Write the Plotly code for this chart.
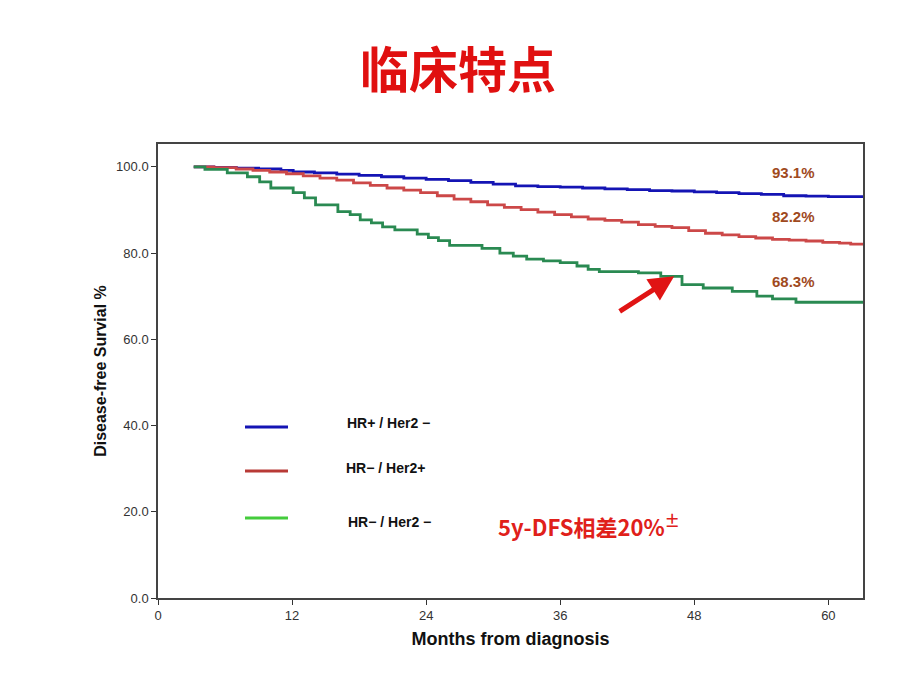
import plotly.graph_objects as go

# ---- data ----
blue_months = [3.2, 5, 7, 9, 11, 12.1, 14, 16, 18, 20, 22, 24, 26, 28, 30, 32, 34, 36, 38, 40, 42, 44, 46, 48, 50, 52, 54, 56, 58, 60, 63.1]
blue_values = [100, 99.9, 99.7, 99.5, 99.2, 98.8, 98.6, 98.3, 98.0, 97.7, 97.4, 97.1, 96.8, 96.4, 96.0, 95.6, 95.4, 95.3, 95.1, 94.9, 94.7, 94.5, 94.4, 94.2, 94.0, 93.8, 93.6, 93.3, 93.2, 93.1, 93.1]

red_months = [3.2, 5, 7, 8.5, 10, 11.5, 13, 14.5, 16, 17.5, 19, 20.5, 22, 23.5, 25, 26.5, 28, 29.5, 31, 32.5, 34, 35.5, 37, 38.5, 40, 41.5, 43, 44.5, 46, 47.5, 49, 50.5, 52, 53.5, 55, 56.5, 58, 59.5, 61, 62, 63.1]
red_values = [100, 99.8, 99.5, 99.2, 98.8, 98.4, 97.9, 97.4, 96.9, 96.3, 95.7, 95.1, 94.6, 94.0, 93.3, 92.5, 91.9, 91.2, 90.6, 90.1, 89.5, 88.9, 88.4, 87.9, 87.6, 87.2, 86.6, 86.2, 85.9, 85.2, 84.6, 84.2, 83.8, 83.5, 83.2, 83.0, 82.8, 82.5, 82.3, 82.1, 82.0]

green_months = [3.2, 4.2, 6.2, 8, 9.1, 10.1, 12.1, 13.1, 14.1, 16.1, 17.2, 18.1, 19.1, 20.1, 21.2, 23.2, 24.2, 25.1, 26.1, 29.0, 30.6, 31.8, 33, 34.5, 36, 37.5, 38.5, 39.5, 43, 45, 46.9, 48.8, 51.4, 53.6, 55, 57.1, 63.1]
green_values = [100, 99.4, 98.6, 97.7, 96.5, 95.1, 94.0, 92.8, 91.2, 89.6, 88.9, 87.7, 87.0, 86.1, 85.4, 84.4, 83.6, 82.9, 81.8, 81.1, 80.0, 79.3, 78.6, 78.2, 77.8, 77.0, 76.2, 75.7, 75.4, 74.6, 72.7, 71.9, 71.1, 70.0, 69.4, 68.6, 68.3]

series_names = ["HR+ / Her2 −", "HR− / Her2+", "HR− / Her2 −"]
end_labels = ["93.1%", "82.2%", "68.3%"]
end_label_y = [98.8, 88.4, 73.3]
x_ticks = [0, 12, 24, 36, 48, 60]
y_ticks = [0, 20, 40, 60, 80, 100]

curve_colors = ["#1414b4", "#cc4848", "#2a8a52"]
legend_colors = ["#1414b4", "#b83a36", "#44cc3c"]

FONT = "Arial, Liberation Sans, Noto Sans CJK SC, sans-serif"
CJK = "Noto Sans CJK SC, sans-serif"

fig = go.Figure()
for mx, vy, col, nm in [(blue_months, blue_values, curve_colors[0], series_names[0]),
                        (red_months, red_values, curve_colors[1], series_names[1]),
                        (green_months, green_values, curve_colors[2], series_names[2])]:
    fig.add_trace(go.Scatter(x=mx, y=vy, mode="lines", line=dict(color=col, width=2.8, shape="hv"),
                             name=nm, showlegend=False))

# page offset from the default body margin
OFF = 8
W, H = 920 - 2 * OFF, 690 - 2 * OFF
L, R, T, B = 158, 863, 144, 598   # plot area in page pixels
def px(x):
    return (x - L) / (R - L)
def py(y):
    return (B - y) / (B - T)

leg_y = [427, 471, 518]
leg_text_y = [423, 468, 522]
leg_text_x = [388, 385, 389]
for i in range(3):
    fig.add_shape(type="line", xref="paper", yref="paper", x0=px(245), x1=px(288), y0=py(leg_y[i]), y1=py(leg_y[i]),
                  line=dict(color=legend_colors[i], width=2.8))
    fig.add_annotation(xref="paper", yref="paper", x=px(leg_text_x[i]), y=py(leg_text_y[i]),
                       xanchor="center", yanchor="middle", text="<b>%s</b>" % series_names[i],
                       showarrow=False, font=dict(family=FONT, size=14, color="#111"))

for i in range(3):
    fig.add_annotation(x=56.9, y=end_label_y[i], text="<b>%s</b>" % end_labels[i], showarrow=False,
                       xanchor="center", yanchor="middle",
                       font=dict(family=FONT, size=15, color="#a04a1e"))

fig.add_annotation(xref="paper", yref="paper", x=px(589), y=py(525), xanchor="center", yanchor="middle",
                   text="<b>5y-DFS相差20%<sup>±</sup></b>", showarrow=False,
                   font=dict(family=CJK, size=22, color="#e0201a"))

# arrow
fig.add_annotation(x=46.2, y=74.6, ax=-56, ay=36, text="", showarrow=True, arrowhead=2, arrowsize=1,
                   arrowwidth=5, arrowcolor="#e01414", standoff=0)

# title
fig.add_annotation(xref="paper", yref="paper", x=px(458), y=py(66), xanchor="center", yanchor="middle",
                   text="<b>临床特点</b>", showarrow=False,
                   font=dict(family=CJK, size=49, color="#e01010"))

fig.update_layout(
    width=W, height=H,
    margin=dict(l=L - OFF, r=W - (R - OFF), t=T - OFF, b=H - (B - OFF)),
    paper_bgcolor="white", plot_bgcolor="white",
    showlegend=False,
)
fig.update_xaxes(range=[0, 63.1], tickvals=x_ticks, ticktext=[str(t) for t in x_ticks], ticks="outside", ticklen=5,
                 tickcolor="#333", showline=True, linecolor="#444", linewidth=1.5, mirror=True, showgrid=False,
                 zeroline=False, tickfont=dict(family=FONT, size=13, color="#333"),
                 title=dict(text="<b>Months from diagnosis</b>", font=dict(family=FONT, size=18, color="#111"), standoff=10))
fig.update_yaxes(range=[0, 105.3], tickvals=y_ticks, tickformat=".1f", ticks="outside", ticklen=5,
                 tickcolor="#333", showline=True, linecolor="#444", linewidth=1.5, mirror=True, showgrid=False,
                 zeroline=False, tickfont=dict(family=FONT, size=13, color="#333"),
                 title=dict(text="<b>Disease-free Survial %</b>", font=dict(family=FONT, size=16, color="#111"), standoff=6))

fig.write_html("out.html")
